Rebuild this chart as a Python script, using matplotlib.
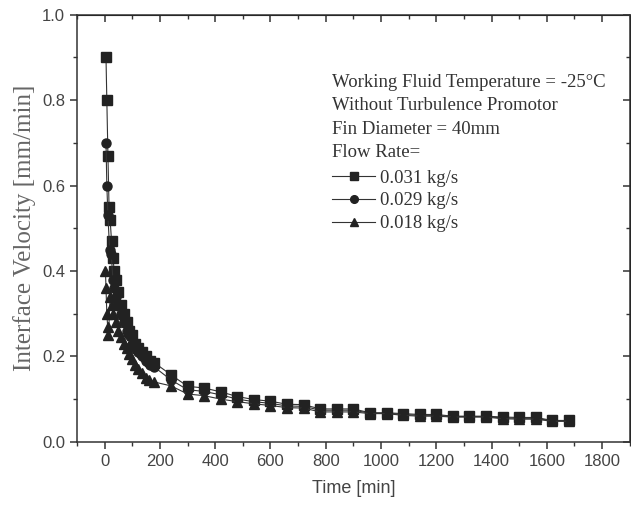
import numpy as np
import matplotlib.pyplot as plt
from matplotlib.ticker import MultipleLocator

# interface velocity [mm/min] against time [min] for three flow rates
late_time = [300, 360, 420, 480, 540, 600, 660, 720, 780, 840, 900, 960,
             1020, 1080, 1140, 1200, 1260, 1320, 1380, 1440, 1500, 1560, 1620, 1680]

time_031 = [5, 8, 12, 16, 20, 25, 30, 35, 40, 50, 60, 70, 80, 90, 100, 110,
            120, 135, 150, 165, 180, 240] + late_time
vel_031 = [0.90, 0.80, 0.67, 0.55, 0.52, 0.47, 0.43, 0.40, 0.38, 0.35, 0.32,
           0.30, 0.28, 0.26, 0.25, 0.23, 0.22, 0.21, 0.20, 0.19, 0.185, 0.157,
           0.130, 0.126, 0.117, 0.106, 0.099, 0.095, 0.088, 0.087, 0.077, 0.077,
           0.077, 0.068, 0.068, 0.066, 0.064, 0.064, 0.060, 0.060, 0.060, 0.058,
           0.057, 0.057, 0.050, 0.050]

time_029 = [5, 8, 12, 18, 24, 30, 35, 40, 50, 60, 70, 80, 90, 100, 110, 120,
            135, 150, 165, 180, 240] + late_time
vel_029 = [0.70, 0.60, 0.53, 0.45, 0.44, 0.38, 0.36, 0.34, 0.32, 0.30, 0.28,
           0.26, 0.25, 0.23, 0.22, 0.21, 0.20, 0.19, 0.18, 0.175, 0.145,
           0.122, 0.118, 0.110, 0.100, 0.094, 0.090, 0.084, 0.083, 0.074, 0.074,
           0.074, 0.067, 0.067, 0.064, 0.062, 0.062, 0.059, 0.059, 0.059, 0.056,
           0.055, 0.055, 0.049, 0.049]

time_018 = [3, 5, 8, 11, 14, 20, 25, 30, 40, 50, 60, 70, 80, 90, 100, 110,
            120, 135, 150, 160, 180, 240] + late_time
vel_018 = [0.40, 0.36, 0.30, 0.27, 0.25, 0.34, 0.32, 0.30, 0.28, 0.26, 0.245,
           0.23, 0.22, 0.205, 0.195, 0.18, 0.17, 0.16, 0.15, 0.145, 0.14, 0.131,
           0.112, 0.108, 0.100, 0.094, 0.089, 0.085, 0.080, 0.079, 0.070, 0.070,
           0.070, 0.066, 0.066, 0.062, 0.060, 0.060, 0.058, 0.058, 0.058, 0.054,
           0.053, 0.053, 0.048, 0.048]

labels = ["0.031 kg/s", "0.029 kg/s", "0.018 kg/s"]
info_lines = ["Working Fluid Temperature = -25\u00b0C",
              "Without Turbulence Promotor",
              "Fin Diameter = 40mm",
              "Flow Rate="]

serif = ["Liberation Serif", "DejaVu Serif"]
sans = ["Liberation Sans", "DejaVu Sans"]
ink = "#222222"

fig = plt.figure(figsize=(6.31, 5.09), dpi=100)
ax = fig.add_axes([0.122, 0.132, 0.876, 0.839])

series = [(time_031, vel_031, "s"), (time_029, vel_029, "o"), (time_018, vel_018, "^")]
for (t, v, m), lab in zip(series, labels):
    ax.plot(t, v, color="#333333", lw=0.8, marker=m, ms=6.5,
            mfc=ink, mec=ink, label=lab)

ax.set_xlim(-100, 1900)
ax.set_ylim(0, 1.0)
ax.xaxis.set_major_locator(MultipleLocator(200))
ax.xaxis.set_minor_locator(MultipleLocator(100))
ax.yaxis.set_major_locator(MultipleLocator(0.2))
ax.yaxis.set_minor_locator(MultipleLocator(0.1))
ax.set_xticks(np.arange(0, 1801, 200))
ax.yaxis.set_major_formatter(plt.FormatStrFormatter("%.1f"))

for s in ax.spines.values():
    s.set_color("#333333")
    s.set_linewidth(1.1)

ax.tick_params(which="both", direction="out", colors="#333333",
               labelcolor="#444444", labelsize=12)
ax.tick_params(which="major", length=5, width=1.1)
ax.tick_params(which="minor", length=3, width=1.0)
for lbl in ax.get_xticklabels() + ax.get_yticklabels():
    lbl.set_family(sans)

# mirrored ticks on top and right, pointing inward
top = ax.secondary_xaxis("top")
top.set_xticks(np.arange(0, 1801, 200))
top.xaxis.set_minor_locator(MultipleLocator(100))
top.tick_params(which="both", direction="in", labeltop=False, colors="#333333")
top.tick_params(which="major", length=5, width=1.1)
top.tick_params(which="minor", length=3, width=1.0)
right = ax.secondary_yaxis("right")
right.set_yticks(np.arange(0, 1.01, 0.2))
right.yaxis.set_minor_locator(MultipleLocator(0.1))
right.tick_params(which="both", direction="in", labelright=False, colors="#333333")
right.tick_params(which="major", length=5, width=1.1)
right.tick_params(which="minor", length=3, width=1.0)

ax.set_xlabel("Time [min]", family=sans, fontsize=13, color="#444444", labelpad=8)
ax.set_ylabel("Interface Velocity [mm/min]", family=serif, fontsize=18,
              color="#666666", labelpad=4)

y0 = 0.841
for i, line in enumerate(info_lines):
    ax.text(0.461, y0 - i * 0.0545, line, transform=ax.transAxes,
            family=serif, fontsize=13.5, color="#333333", va="center")

leg = ax.legend(loc="upper left", bbox_to_anchor=(0.448, 0.655), frameon=False,
                prop={"family": serif, "size": 13.5}, handlelength=2.3,
                handletextpad=0.25, labelspacing=0.3, borderaxespad=0,
                markerscale=0.85)
for txt in leg.get_texts():
    txt.set_color("#333333")

fig.savefig("out.png", dpi=100)
